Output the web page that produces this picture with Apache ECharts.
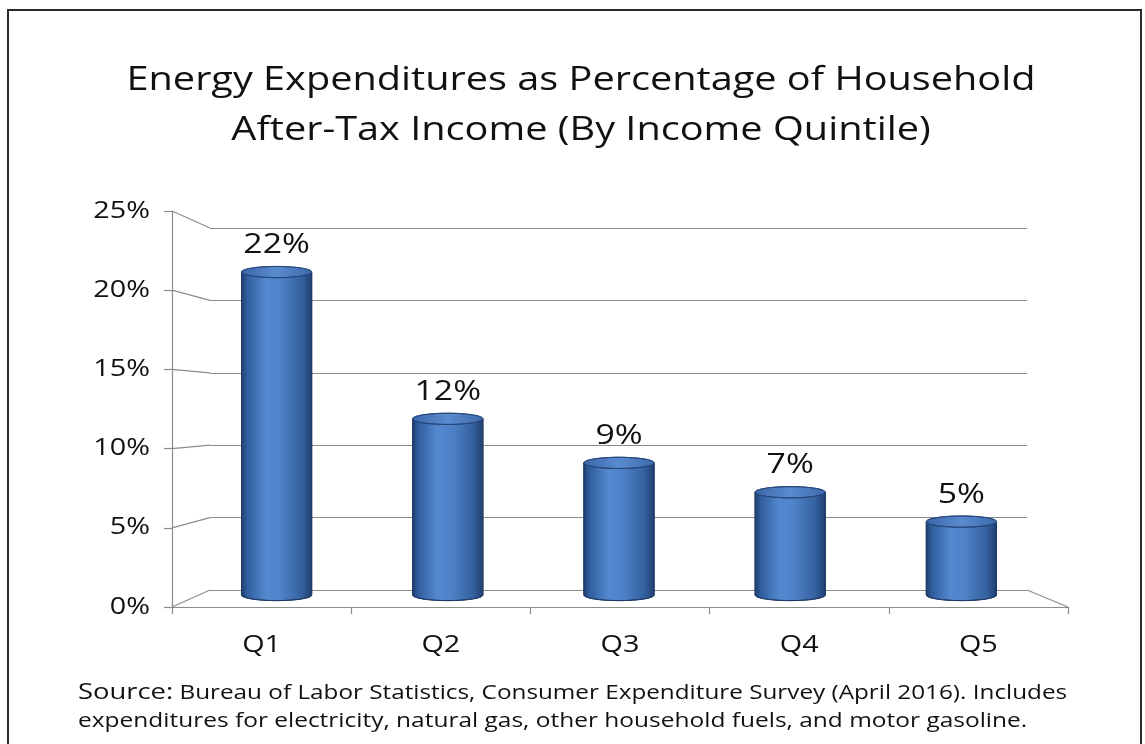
<!DOCTYPE html>
<html>
<head>
<meta charset="utf-8">
<title>Energy Expenditures by Income Quintile</title>
<script src="https://cdn.jsdelivr.net/npm/echarts@6/dist/echarts.min.js"></script>
<style>
  html, body { margin: 0; padding: 0; background: #fff; }
  #chart { width: 1145px; height: 744px; }
</style>
</head>
<body>
<div id="chart"></div>
<script>
// Income quintiles and energy spending share of after-tax income (%)
const quintiles = ['Q1', 'Q2', 'Q3', 'Q4', 'Q5'];
const energyShare = [22, 12, 9, 7, 5];
const yTicks = [0, 5, 10, 15, 20, 25];
const yTickLabels = ['0%', '5%', '10%', '15%', '20%', '25%'];

const titleLines = ['Energy Expenditures as Percentage of Household', 'After-Tax Income (By Income Quintile)'];
const sourceLabel = 'Source:';
const sourceText1 = ' Bureau of Labor Statistics, Consumer Expenditure Survey (April 2016). Includes';
const sourceText2 = 'expenditures for electricity, natural gas, other household fuels, and motor gasoline.';

const FONT = '"Open Sans", "Liberation Sans", sans-serif';
// text in this chart is set a little wide
const WIDE = 1.25;
const chart = echarts.init(document.getElementById('chart'), null, { renderer: 'canvas' });

// Cylinder drawn at mid depth of the 3D box, with its value label above
function renderCylinder(params, api) {
  const idx = api.value(0);
  const val = api.value(1);
  const top = api.coord([idx, val]);
  const base = api.coord([idx, 0]);
  const band = api.size([1, 0])[0];
  const rx = band * 0.205;
  const ry = rx * 0.16;
  const L = top[0] - rx, R = top[0] + rx;
  const bodyFill = new echarts.graphic.LinearGradient(0, 0, 1, 0, [
    { offset: 0, color: '#1d3b6b' },
    { offset: 0.08, color: '#2f5c9c' },
    { offset: 0.35, color: '#5489cf' },
    { offset: 0.55, color: '#4f82c8' },
    { offset: 0.85, color: '#35629f' },
    { offset: 1, color: '#1f3e70' }
  ]);
  const capFill = new echarts.graphic.LinearGradient(0, 0, 1, 0, [
    { offset: 0, color: '#3a66a8' },
    { offset: 0.5, color: '#5a8bcf' },
    { offset: 1, color: '#3c69aa' }
  ]);
  return {
    type: 'group',
    children: [
      {
        type: 'path',
        shape: {
          pathData: 'M' + L + ' ' + top[1] + ' L' + L + ' ' + base[1] +
            ' A' + rx + ' ' + ry + ' 0 0 0 ' + R + ' ' + base[1] +
            ' L' + R + ' ' + top[1] + ' Z'
        },
        style: { fill: bodyFill, stroke: '#1e3a66', lineWidth: 1 }
      },
      {
        type: 'ellipse',
        shape: { cx: top[0], cy: top[1], rx: rx, ry: ry },
        style: { fill: capFill, stroke: '#25477c', lineWidth: 1 }
      },
      {
        type: 'text',
        x: top[0],
        y: top[1] - ry - 21,
        scaleX: WIDE,
        style: {
          text: val + '%',
          x: 0, y: 0,
          align: 'center',
          verticalAlign: 'middle',
          font: '27px ' + FONT,
          fill: '#111'
        }
      }
    ]
  };
}

const axisLineStyle = { color: '#8c8c8c', width: 1.2 };

chart.setOption({
  backgroundColor: '#ffffff',
  animation: false,
  grid: [
    // front edge of the box: value axis and category axis
    { left: 172, top: 211, width: 896, height: 396 },
    // back wall with horizontal gridlines
    { left: 210, top: 228, width: 817, height: 362 },
    // bars sit half way between front and back
    { left: 191, top: 228, width: 856, height: 367 }
  ],
  xAxis: [
    {
      gridIndex: 0, type: 'category', data: quintiles, boundaryGap: true,
      axisLine: { show: true, lineStyle: axisLineStyle },
      axisTick: { show: true, alignWithLabel: false, length: 7, lineStyle: axisLineStyle },
      axisLabel: { show: false },
      splitLine: { show: false }
    },
    { gridIndex: 1, type: 'category', data: quintiles, show: false },
    { gridIndex: 2, type: 'category', data: quintiles, show: false }
  ],
  yAxis: [
    {
      gridIndex: 0, type: 'value', min: 0, max: 25, interval: 5,
      axisLine: { show: true, lineStyle: axisLineStyle },
      axisTick: { show: true, inside: false, length: 8, lineStyle: axisLineStyle },
      axisLabel: { show: false },
      splitLine: { show: false }
    },
    {
      gridIndex: 1, type: 'value', min: 0, max: 25, interval: 5,
      axisLine: { show: false }, axisTick: { show: false }, axisLabel: { show: false },
      splitLine: { show: true, lineStyle: { color: '#8c8c8c', width: 1.2 } }
    },
    { gridIndex: 2, type: 'value', min: 0, max: 25, interval: 5, show: false, splitLine: { show: false } }
  ],
  series: [
    {
      type: 'custom',
      xAxisIndex: 2, yAxisIndex: 2,
      data: energyShare.map((v, i) => [i, v]),
      renderItem: renderCylinder,
      z: 5
    }
  ]
});

const fRect = chart.getModel().getComponent('grid', 0).coordinateSystem.getRect();
const bRect = chart.getModel().getComponent('grid', 1).coordinateSystem.getRect();
const edgeStyle = { stroke: '#8c8c8c', lineWidth: 1.2, fill: null };
const extras = [];

// Side edges of the box: join each front tick to its back-wall gridline
yTicks.forEach((v, k) => {
  const f = chart.convertToPixel({ gridIndex: 0 }, [0, v]);
  const b = chart.convertToPixel({ gridIndex: 1 }, [0, v]);
  extras.push({ type: 'line', shape: { x1: fRect.x, y1: f[1], x2: bRect.x, y2: b[1] }, style: edgeStyle, z: 1 });
  // value axis labels
  extras.push({
    type: 'text', x: fRect.x - 22, y: f[1], scaleX: WIDE, z: 2,
    style: { text: yTickLabels[k], x: 0, y: 0, align: 'right', verticalAlign: 'middle', font: '23px ' + FONT, fill: '#111' }
  });
});
// right edge of the floor
extras.push({
  type: 'line',
  shape: { x1: fRect.x + fRect.width, y1: fRect.y + fRect.height, x2: bRect.x + bRect.width, y2: bRect.y + bRect.height },
  style: edgeStyle, z: 1
});
// category labels under the front edge
quintiles.forEach((q, i) => {
  const p = chart.convertToPixel({ gridIndex: 0 }, [i, 0]);
  extras.push({
    type: 'text', x: p[0], y: p[1] + 38, scaleX: WIDE, z: 2,
    style: { text: q, x: 0, y: 0, align: 'center', verticalAlign: 'middle', font: '23px ' + FONT, fill: '#111' }
  });
});
// title
titleLines.forEach((t, i) => {
  extras.push({
    type: 'text', x: 581, y: 81 + i * 50, scaleX: 1.24, z: 2,
    style: { text: t, x: 0, y: 0, align: 'center', verticalAlign: 'middle', font: '32px ' + FONT, fill: '#111' }
  });
});
// source note
extras.push({
  type: 'text', x: 78, y: 693, scaleX: 1.245, z: 2,
  style: {
    text: '{a|' + sourceLabel + '}{b|' + sourceText1 + '}',
    x: 0, y: 0, align: 'left', verticalAlign: 'middle',
    rich: {
      a: { fontFamily: FONT, fontSize: 22, fill: '#111' },
      b: { fontFamily: FONT, fontSize: 19.5, fill: '#111' }
    }
  }
});
extras.push({
  type: 'text', x: 78, y: 721, scaleX: 1.255, z: 2,
  style: { text: sourceText2, x: 0, y: 0, align: 'left', verticalAlign: 'middle', font: '19.5px ' + FONT, fill: '#111' }
});
// outer frame of the chart area
extras.push({
  type: 'rect',
  shape: { x: 8, y: 10, width: 1133, height: 760 },
  style: { stroke: '#2a2a2a', lineWidth: 2, fill: null },
  z: 0
});
chart.setOption({ graphic: extras });
</script>
</body>
</html>
